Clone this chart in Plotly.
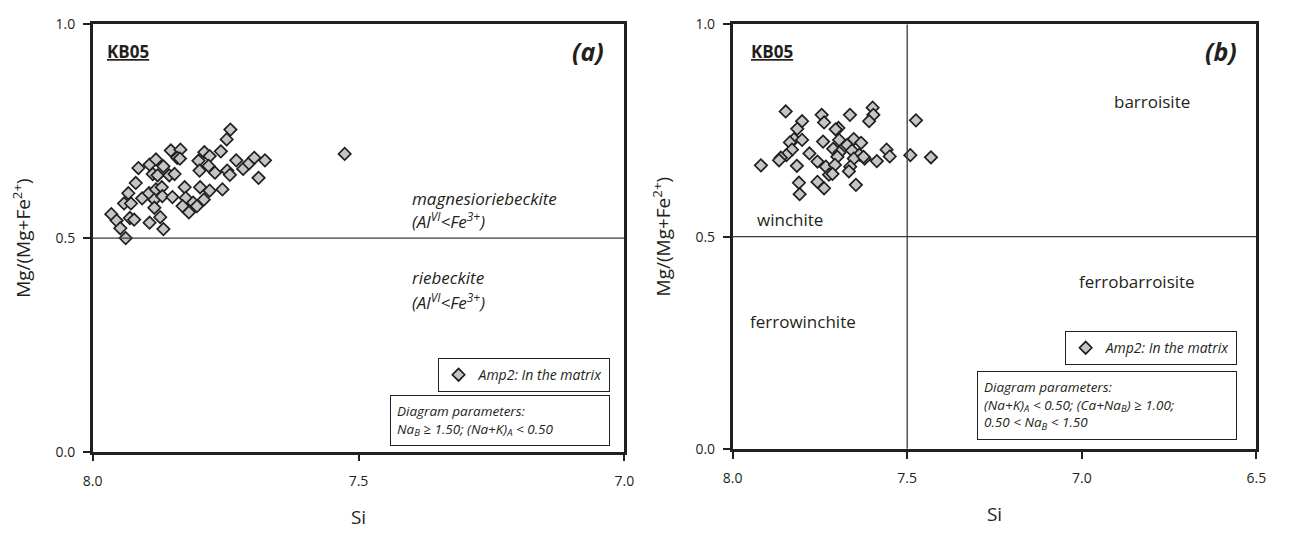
import plotly.graph_objects as go

# ---------------- data ----------------
# Panel (a): Na-amphibole diagram, Amp2 in the matrix
si_a = [7.741, 7.748, 7.759, 7.853, 7.835, 7.841, 7.836, 7.790, 7.780, 7.801,
        7.730, 7.717, 7.706, 7.696, 7.676, 7.688, 7.914, 7.893, 7.881, 7.867,
        7.887, 7.878, 7.856, 7.846, 7.799, 7.782, 7.770, 7.747, 7.742, 7.919,
        7.933, 7.941, 7.928, 7.907, 7.894, 7.881, 7.870, 7.884, 7.884, 7.869,
        7.850, 7.827, 7.825, 7.831, 7.819, 7.811, 7.798, 7.791, 7.780, 7.756,
        7.965, 7.955, 7.948, 7.938, 7.930, 7.922, 7.893, 7.873, 7.867, 7.526,
        7.804]
mg_a = [0.754, 0.731, 0.703, 0.705, 0.707, 0.688, 0.686, 0.701, 0.692, 0.681,
        0.682, 0.662, 0.675, 0.688, 0.682, 0.641, 0.664, 0.672, 0.684, 0.668,
        0.650, 0.647, 0.647, 0.650, 0.658, 0.669, 0.653, 0.658, 0.648, 0.629,
        0.605, 0.581, 0.581, 0.593, 0.605, 0.614, 0.619, 0.590, 0.571, 0.598,
        0.596, 0.619, 0.594, 0.575, 0.560, 0.583, 0.619, 0.590, 0.611, 0.614,
        0.556, 0.541, 0.523, 0.500, 0.547, 0.543, 0.536, 0.549, 0.521, 0.697,
        0.575]

# Panel (b): Na-Ca amphibole diagram, Amp2 in the matrix
si_b = [7.848, 7.801, 7.815, 7.745, 7.738, 7.664, 7.599, 7.597, 7.609, 7.697,
        7.705, 7.475, 7.824, 7.836, 7.801, 7.741, 7.695, 7.653, 7.632, 7.672,
        7.830, 7.846, 7.862, 7.867, 7.919, 7.780, 7.757, 7.712, 7.694, 7.700,
        7.658, 7.637, 7.622, 7.653, 7.587, 7.559, 7.550, 7.816, 7.733, 7.707,
        7.724, 7.714, 7.663, 7.667, 7.810, 7.808, 7.757, 7.738, 7.647, 7.491,
        7.432, 7.625]
mg_b = [0.795, 0.772, 0.754, 0.787, 0.769, 0.787, 0.804, 0.787, 0.772, 0.756,
        0.753, 0.774, 0.730, 0.722, 0.728, 0.724, 0.728, 0.730, 0.721, 0.716,
        0.705, 0.692, 0.686, 0.680, 0.668, 0.696, 0.677, 0.707, 0.698, 0.688,
        0.703, 0.693, 0.684, 0.684, 0.678, 0.705, 0.689, 0.667, 0.665, 0.669,
        0.646, 0.648, 0.665, 0.654, 0.627, 0.600, 0.629, 0.614, 0.622, 0.692,
        0.687, 0.688]

series_name = "Amp2: In the matrix"
xticks_a = [8.0, 7.5, 7.0]
xticks_b = [8.0, 7.5, 7.0, 6.5]
yticks = [0.0, 0.5, 1.0]

# ---------------- layout helpers ----------------
W, H = 1290, 534
def fx(p):
    return p / W
def fy(p):
    return 1 - p / H

INK = "#231f20"
FONT = "Open Sans"
marker = dict(symbol="diamond", size=9.5, color="#c4c5c7",
              line=dict(color=INK, width=1.7))

fig = go.Figure()
fig.add_trace(go.Scatter(x=si_a, y=mg_a, mode="markers", name=series_name,
                         xaxis="x", yaxis="y", legend="legend",
                         marker=marker, showlegend=True))
fig.add_trace(go.Scatter(x=si_b, y=mg_b, mode="markers", name=series_name,
                         xaxis="x2", yaxis="y2", legend="legend2",
                         marker=marker, showlegend=True))

axis_common = dict(showline=True, linecolor=INK, linewidth=2.5, mirror=True,
                   ticks="outside", ticklen=7, tickwidth=2, tickcolor=INK,
                   showgrid=False, zeroline=False,
                   tickfont=dict(family=FONT, size=14, color=INK))

xa = dict(domain=[fx(84), fx(624)])
xb = dict(domain=[fx(734), fx(1266)])
ya = dict(domain=[fy(458), fy(15)])
yb = dict(domain=[fy(455), fy(15)])

title_font = dict(family=FONT, size=19, color=INK)
legend_font = dict(family=FONT, size=14, style="italic", color=INK)

fig.update_layout(
    width=W, height=H,
    margin=dict(l=0, r=0, t=0, b=0),
    paper_bgcolor="white", plot_bgcolor="white",
    xaxis=dict(**axis_common, **xa, anchor="y", range=[8.0, 7.0],
               tickvals=xticks_a, ticktext=[f"{v:.1f}" for v in xticks_a],
               ticklabelstandoff=8,
               title=dict(text="Si", font=title_font, standoff=22)),
    yaxis=dict(**axis_common, **ya, anchor="x", range=[0, 1],
               tickvals=yticks, ticktext=[f"{v:.1f}" for v in yticks],
               ticklabelstandoff=5,
               title=dict(text="Mg/(Mg+Fe<sup>2+</sup>)", font=title_font, standoff=20)),
    xaxis2=dict(**axis_common, **xb, anchor="y2", range=[8.0, 6.5],
                tickvals=xticks_b, ticktext=[f"{v:.1f}" for v in xticks_b],
                ticklabelstandoff=8,
                title=dict(text="Si", font=title_font, standoff=22)),
    yaxis2=dict(**axis_common, **yb, anchor="x2", range=[0, 1],
                tickvals=yticks, ticktext=[f"{v:.1f}" for v in yticks],
                ticklabelstandoff=5,
                title=dict(text="Mg/(Mg+Fe<sup>2+</sup>)", font=title_font, standoff=20)),
    legend=dict(x=fx(609), xanchor="right", y=fy(361), yanchor="top",
                bordercolor=INK, borderwidth=1, bgcolor="white",
                font=legend_font, itemwidth=30),
    legend2=dict(x=fx(1246), xanchor="right", y=fy(333), yanchor="top",
                 bordercolor=INK, borderwidth=1, bgcolor="white",
                 font=legend_font, itemwidth=30),
    showlegend=True,
)

# classification boundaries
line_style = dict(color="#3c3a3b", width=1.3)
fig.add_shape(type="line", xref="x domain", yref="y", x0=0, x1=1, y0=0.5, y1=0.5, line=line_style)
fig.add_shape(type="line", xref="x2 domain", yref="y2", x0=0, x1=1, y0=0.5, y1=0.5, line=line_style)
fig.add_shape(type="line", xref="x2", yref="y2 domain", x0=7.5, x1=7.5, y0=0, y1=1, line=line_style)

def label(text, xref, x, y, size=17, xanchor="left", yanchor="middle", align="left"):
    fig.add_annotation(text=text, xref=xref, yref="paper", x=x, y=y,
                       showarrow=False, xanchor=xanchor, yanchor=yanchor, align=align,
                       font=dict(family=FONT, size=size, color=INK))

# panel (a) texts
label("<b><u>KB05</u></b>", "x domain", 0.024, fy(43), size=17)
label("<b><i>(a)</i></b>", "x domain", 0.965, fy(43), size=25, xanchor="right")
label("<i>magnesioriebeckite</i>", "x domain", 0.597, fy(195))
label("<i>(Al<sup>VI</sup>&lt;Fe<sup>3+</sup>)</i>", "x domain", 0.597, fy(218))
label("<i>riebeckite</i>", "x domain", 0.597, fy(277))
label("<i>(Al<sup>VI</sup>&lt;Fe<sup>3+</sup>)</i>", "x domain", 0.597, fy(302))
fig.add_annotation(text="<i>Diagram parameters:<br>Na<sub>B</sub> ≥ 1.50; (Na+K)<sub>A</sub> &lt; 0.50</i>",
                   xref="paper", yref="paper", x=fx(609), y=fy(399),
                   xanchor="right", yanchor="top", align="left", showarrow=False,
                   bordercolor=INK, borderwidth=1, borderpad=6, bgcolor="white",
                   width=206,
                   font=dict(family=FONT, size=13.5, color=INK))

# panel (b) texts
label("<b><u>KB05</u></b>", "x2 domain", 0.031, fy(43), size=17)
label("<b><i>(b)</i></b>", "x2 domain", 0.967, fy(43), size=25, xanchor="right")
label("barroisite", "x2 domain", 0.80, fy(95), xanchor="center")
label("winchite", "x2 domain", 0.043, fy(217))
label("ferrobarroisite", "x2 domain", 0.773, fy(281), xanchor="center")
label("ferrowinchite", "x2 domain", 0.029, fy(323))
fig.add_annotation(text="<i>Diagram parameters:<br>(Na+K)<sub>A</sub> &lt; 0.50; (Ca+Na<sub>B</sub>) ≥ 1.00;<br>0.50 &lt; Na<sub>B</sub> &lt; 1.50</i>",
                   xref="paper", yref="paper", x=fx(1246), y=fy(374),
                   xanchor="right", yanchor="top", align="left", showarrow=False,
                   bordercolor=INK, borderwidth=1, borderpad=6, bgcolor="white",
                   width=246,
                   font=dict(family=FONT, size=13.5, color=INK))

fig.write_html("out.html")
